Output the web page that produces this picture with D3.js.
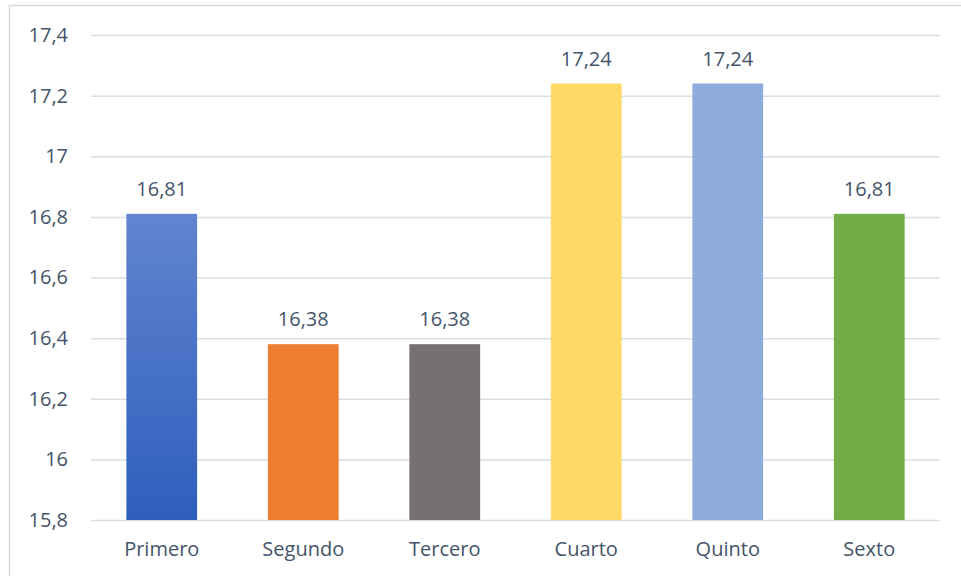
<!DOCTYPE html>
<html>
<head>
<meta charset="utf-8">
<script src="https://cdn.jsdelivr.net/npm/d3@7"></script>
<style>
  html, body { margin: 0; padding: 0; background: #fff; }
  svg { display: block; }
  text { font-family: "Open Sans", "Noto Sans", sans-serif; fill: #44546a; }
</style>
</head>
<body>
<svg id="chart" width="961" height="576"></svg>
<script>
// Chart data
const categories = ["Primero", "Segundo", "Tercero", "Cuarto", "Quinto", "Sexto"];
const values = [16.81, 16.38, 16.38, 17.24, 17.24, 16.81];
const barColors = ["url(#blueGrad)", "#ed7d31", "#767171", "#ffd966", "#8faadc", "#70ad47"];
const yTicks = [15.8, 16, 16.2, 16.4, 16.6, 16.8, 17, 17.2, 17.4];

const W = 961, H = 576;
const plot = { left: 91, right: 940, top: 35, bottom: 520 };
const fontSize = "20px";

const svg = d3.select("#chart");

// Gradient for the first bar
const defs = svg.append("defs");
const grad = defs.append("linearGradient")
  .attr("id", "blueGrad").attr("x1", 0).attr("y1", 0).attr("x2", 0).attr("y2", 1);
grad.append("stop").attr("offset", "0%").attr("stop-color", "#6184cf");
grad.append("stop").attr("offset", "100%").attr("stop-color", "#2e5fbd");

// Outer border
svg.append("rect")
  .attr("x", 9.5).attr("y", 5.5)
  .attr("width", W + 10).attr("height", H + 10)
  .attr("fill", "none").attr("stroke", "#d9d9d9").attr("stroke-width", 1.5);

const x = d3.scaleBand()
  .domain(categories)
  .range([plot.left, plot.right])
  .paddingInner(0.5)
  .paddingOuter(0.25);

const y = d3.scaleLinear()
  .domain([15.8, 17.4])
  .range([plot.bottom, plot.top]);

const fmt = v => d3.format(".1f")(v).replace(/\.0$/, "").replace(".", ",");
const fmt2 = v => d3.format(".2f")(v).replace(".", ",");

// Gridlines and y tick labels
const yAxis = d3.axisLeft(y)
  .tickValues(yTicks)
  .tickSize(-(plot.right - plot.left))
  .tickPadding(23)
  .tickFormat(fmt);

const gy = svg.append("g")
  .attr("transform", `translate(${plot.left},0)`)
  .call(yAxis);
gy.select(".domain").remove();
gy.selectAll(".tick line").attr("stroke", "#d9dde4").attr("stroke-width", 1.5);
gy.selectAll(".tick text")
  .style("font-size", fontSize)
  .attr("fill", "#44546a");

// Bars
svg.append("g").selectAll("rect")
  .data(values)
  .join("rect")
  .attr("x", (d, i) => x(categories[i]))
  .attr("width", x.bandwidth())
  .attr("y", d => y(d))
  .attr("height", d => y(15.8) - y(d))
  .attr("fill", (d, i) => barColors[i]);

// Value labels
svg.append("g").selectAll("text")
  .data(values)
  .join("text")
  .attr("x", (d, i) => x(categories[i]) + x.bandwidth() / 2)
  .attr("y", d => y(d) - 18)
  .attr("text-anchor", "middle")
  .style("font-size", fontSize)
  .text(d => fmt2(d));

// Category axis
const xAxis = d3.axisBottom(x).tickSize(0).tickPadding(22);
const gx = svg.append("g")
  .attr("transform", `translate(0,${plot.bottom})`)
  .call(xAxis);
gx.select(".domain").remove();
gx.selectAll(".tick text")
  .style("font-size", fontSize)
  .attr("fill", "#44546a");
</script>
</body>
</html>
